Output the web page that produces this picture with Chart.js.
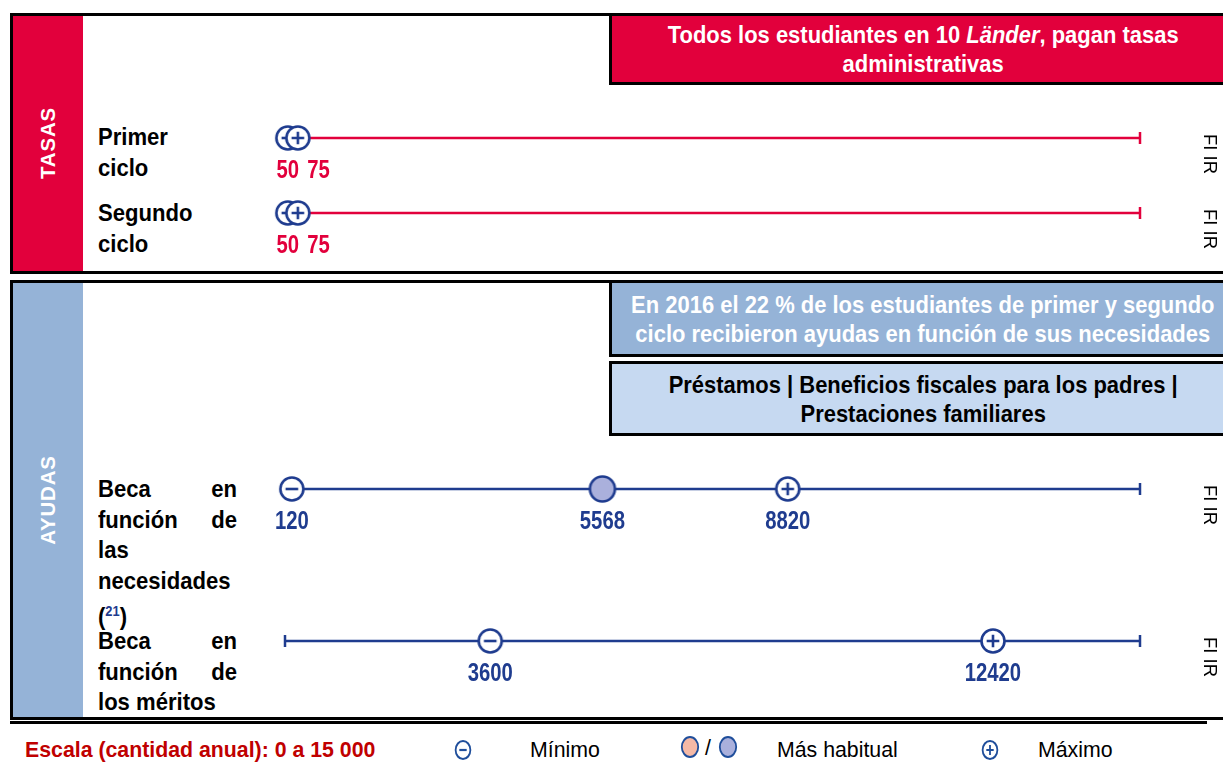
<!DOCTYPE html>
<html><head><meta charset="utf-8">
<script src="https://cdn.jsdelivr.net/npm/chart.js@4.4.1/dist/chart.umd.min.js"></script>
<style>
body{margin:0;width:1223px;height:770px;position:relative;overflow:hidden;background:#fff;font-family:'Liberation Sans',Arial,Helvetica,sans-serif;}
.panel{position:absolute;border:3px solid #000;box-sizing:border-box;}
.side{position:absolute;}
.sidetxt{position:absolute;color:#fff;font-weight:bold;font-size:20.5px;letter-spacing:0.8px;transform:translate(-50%,-50%) rotate(-90deg);white-space:nowrap;}
.box{position:absolute;border:3px solid #000;box-sizing:border-box;display:flex;align-items:center;justify-content:center;text-align:center;font-weight:bold;}
.box > div{font-size:24px;line-height:29px;transform:scaleX(0.915);white-space:nowrap;}
.lbl{position:absolute;left:98px;width:151px;font-weight:bold;font-size:24px;color:#000;transform:scaleX(0.92);transform-origin:0 0;}
.lbl div{display:flex;justify-content:space-between;height:30.5px;line-height:30.5px;}
.code{position:absolute;font-size:18.5px;transform:translate(-50%,-50%) rotate(90deg);white-space:nowrap;color:#000;}
.rowchart{position:absolute;left:0;width:1223px;height:80px;}
.leg{position:absolute;top:750px;transform:translateY(-50%);font-size:21.3px;white-space:nowrap;}
</style></head>
<body>
<!-- TASAS panel -->
<div class="panel" style="left:10px;top:13px;width:1230px;height:261px;"></div>
<div class="side" style="left:13px;top:16px;width:70px;height:255px;background:#e2003c;"></div>
<div class="sidetxt" style="left:48px;top:143px;">TASAS</div>
<div class="box" style="left:609px;top:13px;width:628px;height:72px;background:#e2003c;color:#fff;"><div>Todos los estudiantes en 10 <i>Länder</i>, pagan tasas<br>administrativas</div></div>

<!-- AYUDAS panel -->
<div class="panel" style="left:10px;top:280px;width:1230px;height:440px;"></div>
<div class="side" style="left:13px;top:283px;width:70px;height:434px;background:#95b3d7;"></div>
<div class="sidetxt" style="left:48px;top:500px;">AYUDAS</div>
<div class="box" style="left:609px;top:280px;width:628px;height:77px;background:#95b3d7;color:#fff;"><div>En 2016 el 22 % de los estudiantes de primer y segundo<br>ciclo recibieron ayudas en función de sus necesidades</div></div>
<div class="box" style="left:609px;top:361px;width:628px;height:75px;background:#c6d9f1;color:#000;"><div>Préstamos | Beneficios fiscales para los padres |<br>Prestaciones familiares</div></div>

<!-- Row labels -->
<div class="lbl" style="top:122px;"><div><span>Primer</span></div><div><span>ciclo</span></div></div>
<div class="lbl" style="top:198px;"><div><span>Segundo</span></div><div><span>ciclo</span></div></div>
<div class="lbl" style="top:474px;"><div><span>Beca</span><span>en</span></div><div><span>función</span><span>de</span></div><div><span>las</span></div><div><span>necesidades</span></div><div><span>(<sup style="color:#1f3c8f;font-size:14px;">21</sup>)</span></div></div>
<div class="lbl" style="top:626px;"><div><span>Beca</span><span>en</span></div><div><span>función</span><span>de</span></div><div><span>los méritos</span></div></div>

<div id="charts"></div>

<!-- bottom rule & legend -->
<div style="position:absolute;left:10px;top:721px;width:1197px;height:3px;background:#000;"></div>
<div class="leg" style="left:25px;color:#c00000;font-weight:bold;">Escala (cantidad anual): 0 a 15&nbsp;000</div>
<canvas id="lgMin" width="22" height="26" style="position:absolute;left:452px;top:737px;"></canvas>
<div class="leg" style="left:530px;">Mínimo</div>
<canvas id="lgModeA" width="24" height="26" style="position:absolute;left:678px;top:734px;"></canvas>
<div class="leg" style="left:705px;top:748px;">/</div>
<canvas id="lgModeB" width="24" height="26" style="position:absolute;left:716px;top:734px;"></canvas>
<div class="leg" style="left:777px;">Más habitual</div>
<canvas id="lgMax" width="22" height="26" style="position:absolute;left:979px;top:737px;"></canvas>
<div class="leg" style="left:1038px;">Máximo</div>

<script>
// ---------- DATA ----------
const SCALE_MIN = 0;
const SCALE_MAX = 15000;
const rowNames = ['Primer ciclo', 'Segundo ciclo', 'Beca en función de las necesidades', 'Beca en función de los méritos'];
const rowGroups = ['TASAS', 'TASAS', 'AYUDAS', 'AYUDAS'];
const minValues = [50, 50, 120, 3600];
const modeValues = [null, null, 5568, null];
const maxValues = [75, 75, 8820, 12420];
const countryCodes = ['FI IR', 'FI IR', 'FI IR', 'FI IR'];

// ---------- STYLE / LAYOUT ----------
const rowLineY = [138, 213, 489, 641];
const RED = '#e2003c', NAVY = '#1f3c8f';
const groupColor = {TASAS: RED, AYUDAS: NAVY};
const MODE_FILL = '#aab0dc';

function makeIcon(kind, r, fill, lw, w, h) {
  const c = document.createElement('canvas');
  c.width = w; c.height = h;
  const g = c.getContext('2d');
  const mx = c.width / 2, my = c.height / 2;
  g.beginPath();
  g.arc(mx, my, r, 0, Math.PI * 2);
  g.fillStyle = fill; g.fill();
  g.lineWidth = lw; g.strokeStyle = NAVY; g.stroke();
  const a = r * 0.55;
  g.beginPath();
  if (kind !== 'mode') { g.moveTo(mx - a, my); g.lineTo(mx + a, my); }
  if (kind === 'max') { g.moveTo(mx, my - a); g.lineTo(mx, my + a); }
  g.lineWidth = lw; g.stroke();
  return c;
}
const icons = {
  min: makeIcon('min', 11.5, '#fff', 2.6, 30, 30),
  mode: makeIcon('mode', 12.5, MODE_FILL, 2.6, 30, 30),
  max: makeIcon('max', 11.5, '#fff', 2.6, 30, 30)
};

// push overlapping markers apart by a minimum pixel gap
const dodgePlugin = {
  id: 'dodge',
  afterDatasetsUpdate(chart) {
    const els = chart.getDatasetMeta(0).data;
    for (let k = 1; k < els.length; k++) {
      if (els[k].x - els[k - 1].x < 10) els[k].x = els[k - 1].x + 10;
    }
  }
};

const valueLabelPlugin = {
  id: 'valueLabels',
  afterDatasetsDraw(chart) {
    const ctx = chart.ctx;
    const ds = chart.data.datasets[0];
    const els = chart.getDatasetMeta(0).data;
    const sx = 0.78;
    ctx.save();
    ctx.font = 'bold 26px "Liberation Sans", Arial, sans-serif';
    ctx.fillStyle = ds.labelColor;
    ctx.textBaseline = 'middle';
    ctx.textAlign = 'center';
    let prevRight = -Infinity;
    els.forEach((el, k) => {
      const txt = String(ds.data[k].x);
      const w = ctx.measureText(txt).width * sx;
      let cx = el.x;
      if (cx - w / 2 < prevRight + 8) cx = prevRight + 8 + w / 2;
      prevRight = cx + w / 2;
      ctx.save();
      ctx.translate(cx, el.y + 33);
      ctx.scale(sx, 1);
      ctx.fillText(txt, 0, 0);
      ctx.restore();
    });
    ctx.restore();
  }
};

const holder = document.getElementById('charts');
rowNames.forEach((name, i) => {
  const color = groupColor[rowGroups[i]];
  const wrap = document.createElement('div');
  wrap.className = 'rowchart';
  wrap.style.top = (rowLineY[i] - 40) + 'px';
  const cv = document.createElement('canvas');
  cv.width = 1223; cv.height = 80;
  wrap.appendChild(cv);
  holder.appendChild(wrap);

  const pts = [], kinds = [];
  pts.push({x: minValues[i], y: 0}); kinds.push('min');
  if (modeValues[i] != null) { pts.push({x: modeValues[i], y: 0}); kinds.push('mode'); }
  pts.push({x: maxValues[i], y: 0}); kinds.push('max');

  new Chart(cv, {
    type: 'scatter',
    data: {
      datasets: [
        {
          label: name, data: pts, labelColor: color, clip: false,
          pointStyle: kinds.map(k => icons[k]), pointRadius: 12, order: 0, showLine: false
        },
        {
          label: 'escala', data: [{x: SCALE_MIN, y: 0}, {x: SCALE_MAX, y: 0}], clip: false,
          showLine: true, borderColor: color, borderWidth: 2.5,
          pointStyle: 'line', pointRotation: 90, pointRadius: 6,
          pointBorderWidth: 2.5, pointBorderColor: color, pointBackgroundColor: color, order: 1
        }
      ]
    },
    options: {
      responsive: false, animation: false, events: [],
      layout: {padding: {left: 285, right: 83, top: 0, bottom: 0}},
      scales: {
        x: {type: 'linear', min: SCALE_MIN, max: SCALE_MAX, display: false},
        y: {min: -1, max: 1, display: false}
      },
      plugins: {legend: {display: false}, tooltip: {enabled: false}}
    },
    plugins: [dodgePlugin, valueLabelPlugin]
  });

  const code = document.createElement('div');
  code.className = 'code';
  code.textContent = countryCodes[i];
  code.style.left = '1210px';
  code.style.top = (rowLineY[i] + 16) + 'px';
  document.body.appendChild(code);
});

// legend icons
function paintLegend(id, kind, fill, r) {
  const c = document.getElementById(id);
  const g = c.getContext('2d');
  const mx = c.width / 2, my = c.height / 2;
  g.save();
  g.translate(mx, my);
  g.scale(0.82, 1);
  g.beginPath(); g.arc(0, 0, r, 0, Math.PI * 2);
  g.fillStyle = fill; g.fill();
  g.lineWidth = 2.2; g.strokeStyle = '#1f4e9b'; g.stroke();
  g.beginPath();
  if (kind !== 'mode') { g.moveTo(-4.5, 0); g.lineTo(4.5, 0); }
  if (kind === 'max') { g.moveTo(0, -5); g.lineTo(0, 5); }
  g.stroke();
  g.restore();
}
paintLegend('lgMin', 'min', '#fff', 9);
paintLegend('lgMax', 'max', '#fff', 9);
paintLegend('lgModeA', 'mode', '#f5b9a6', 10);
paintLegend('lgModeB', 'mode', '#aab0dc', 10);
</script>
</body></html>
